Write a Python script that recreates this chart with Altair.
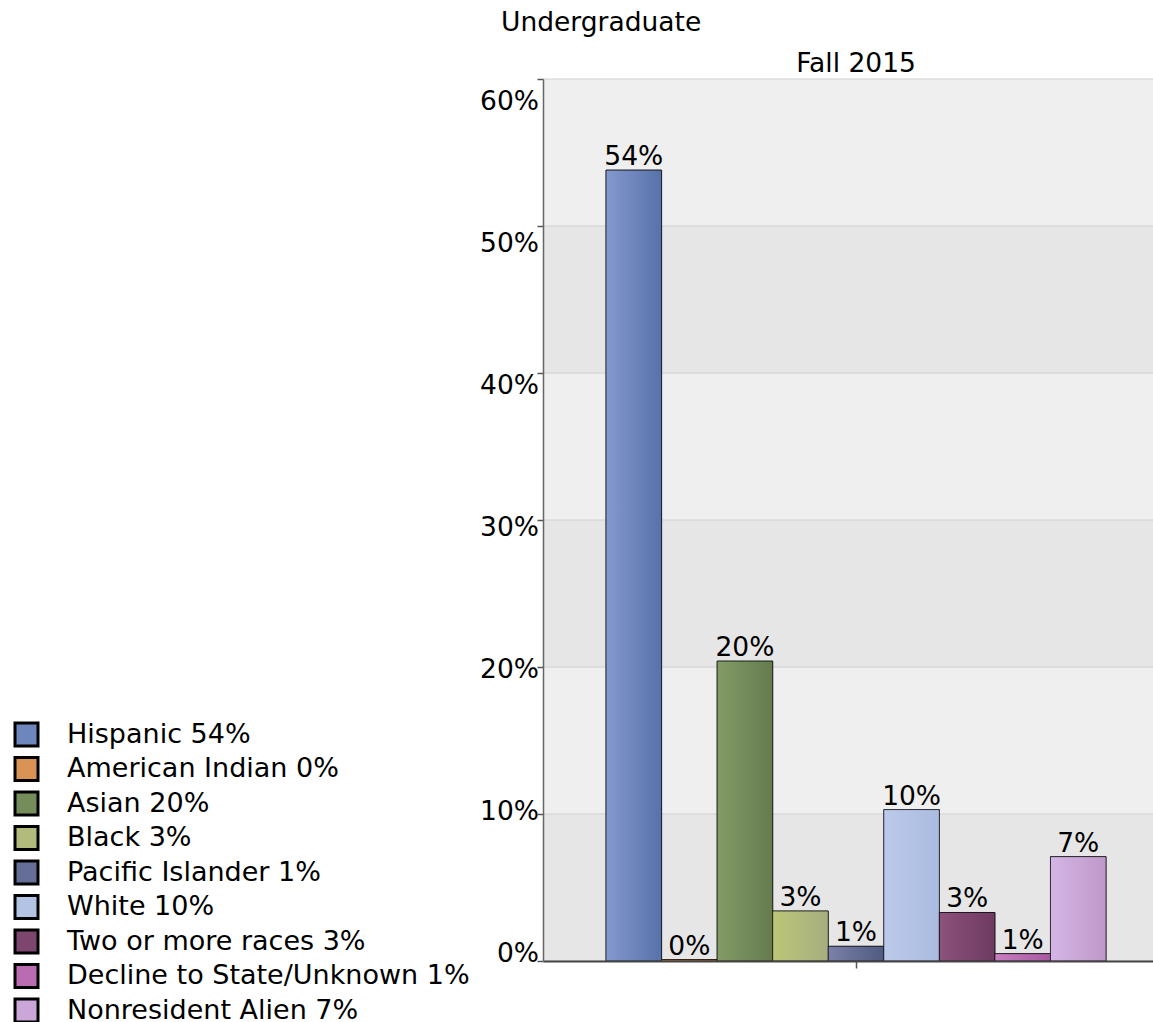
import altair as alt
import pandas as pd

# ---- data ----
races = ["Hispanic", "American Indian", "Asian", "Black", "Pacific Islander",
         "White", "Two or more races", "Decline to State/Unknown", "Nonresident Alien"]
values = [53.8, 0.1, 20.4, 3.4, 1.0, 10.3, 3.3, 0.5, 7.1]
shown = ["54%", "0%", "20%", "3%", "1%", "10%", "3%", "1%", "7%"]
term = "Fall 2015"
y_ticks = [0, 10, 20, 30, 40, 50, 60]
band_lo = [0, 10, 20, 30, 40, 50]
band_hi = [10, 20, 30, 40, 50, 60]

# colours (left / right of bar gradient, and a middle colour for the legend)
color_left = ["#8499d0", "#e2a466", "#829c66", "#bcc677", "#7b80a8", "#bccaea", "#8c527b", "#c880c2", "#d4b6e6"]
color_right = ["#5672a8", "#c98040", "#657b4f", "#a6ae80", "#4f5b82", "#aabbe0", "#6d3a61", "#aa58a0", "#bf98c8"]
color_mid = ["#6d87bd", "#d99455", "#748d5b", "#b2bb7b", "#656e96", "#b3c3e4", "#7d466e", "#b96cb1", "#caa7d8"]

legend_labels = [f"{r} {s}" for r, s in zip(races, shown)]

df = pd.DataFrame({
    "term": [term] * len(races),
    "race": races,
    "value": values,
    "shown": shown,
    "legend": legend_labels,
})
bands = pd.DataFrame({"lo": band_lo, "hi": band_hi})
ticks = pd.DataFrame({"v": y_ticks})

FONT = "DejaVu Sans"
FS = 26.5

x_scale = alt.Scale(paddingInner=0, paddingOuter=0.11, align=0.573)
xo = alt.XOffset("race:N", sort=races, scale=alt.Scale(paddingInner=0, paddingOuter=0))
y_scale = alt.Scale(domain=[0, 60], nice=False, zero=True)

band_layer = alt.Chart(bands).transform_calculate(
    shade="datum.lo % 20 == 0 ? '#e6e6e6' : '#efefef'"
).mark_rect().encode(
    y=alt.Y("lo:Q", scale=y_scale, title=None,
            axis=alt.Axis(values=y_ticks, labels=False, grid=False, zindex=1,
                          domainColor="#666666", domainWidth=1.5,
                          tickColor="#555555", tickSize=6, tickWidth=1.5)),
    y2="hi:Q",
    color=alt.Color("shade:N", scale=None),
)

grid_layer = alt.Chart(ticks).mark_rule(color="#d0d0d0", strokeWidth=1).encode(
    y=alt.Y("v:Q", scale=y_scale, axis=None),
)

# y tick labels (the reference spreads them slightly differently from the ticks)
ylab_layer = alt.Chart(ticks).transform_calculate(
    pos="datum.v * 0.966 + 0.476",
    lab="datum.v + '%'",
).mark_text(align="right", baseline="middle", fontSize=FS, font=FONT,
            color="black").encode(
    x=alt.value(-4),
    y=alt.Y("pos:Q", scale=y_scale, axis=None),
    text="lab:N",
)

base_bars = alt.Chart(df).mark_bar(stroke="#000000", strokeOpacity=0.65, strokeWidth=1).encode(
    x=alt.X("term:N", scale=x_scale, title=None,
            axis=alt.Axis(orient="top", ticks=False, domain=False, labelAngle=0,
                          labelFontSize=FS, labelFont=FONT, labelColor="black",
                          labelBaseline="alphabetic", labelPadding=8)),
    xOffset=xo,
    y=alt.Y("value:Q", scale=y_scale, axis=None),
    color=alt.Color("legend:N", sort=legend_labels,
                    scale=alt.Scale(domain=legend_labels, range=color_mid),
                    legend=alt.Legend(orient="none", legendX=-530, legendY=642,
                                      title=None, symbolType="square", symbolSize=529,
                                      symbolStrokeColor="black", symbolStrokeWidth=3,
                                      symbolOpacity=1, labelFontSize=27, labelFont=FONT,
                                      labelColor="black", labelOffset=27, rowPadding=-0.5,
                                      padding=0, labelLimit=0)),
)

grad_layers = []
for r, cl, cr in zip(races, color_left, color_right):
    grad = alt.LinearGradient(
        gradient="linear",
        stops=[alt.GradientStop(color=cl, offset=0), alt.GradientStop(color=cr, offset=1)],
        x1=0, x2=1, y1=0, y2=0,
    )
    grad_layers.append(
        alt.Chart(df).transform_filter(alt.datum.race == r)
        .mark_bar(color=grad, stroke="#000000", strokeOpacity=0.65, strokeWidth=1)
        .encode(
            x=alt.X("term:N", scale=x_scale, axis=None),
            xOffset=xo,
            y=alt.Y("value:Q", scale=y_scale, axis=None),
        )
    )

text_layer = alt.Chart(df).mark_text(baseline="alphabetic", dy=-5, fontSize=FS,
                                     font=FONT, color="black").encode(
    x=alt.X("term:N", scale=x_scale, title=None,
            axis=alt.Axis(orient="bottom", labels=False, ticks=True, tickSize=7,
                          tickColor="#555555", tickWidth=1.5, domain=True, zindex=1,
                          domainColor="#444444", domainWidth=2)),
    xOffset=xo,
    y=alt.Y("value:Q", scale=y_scale, axis=None),
    text="shown:N",
)

chart = alt.layer(band_layer, grid_layer, base_bars, *grad_layers, text_layer,
                  ylab_layer).resolve_axis(
    x="independent", y="independent"
).properties(
    width=610, height=882,
    autosize=alt.AutoSizeParams(type="none"),
    padding={"left": 543, "top": 79, "right": 0, "bottom": 61},
    title=alt.TitleParams("Undergraduate", anchor="start", frame="group", dx=-42,
                          fontSize=26.5, font=FONT, fontWeight="normal", color="black",
                          offset=14),
).configure_view(stroke=None).configure(font=FONT)

chart.save("out.html", embed_options={"renderer": "svg", "actions": False})
